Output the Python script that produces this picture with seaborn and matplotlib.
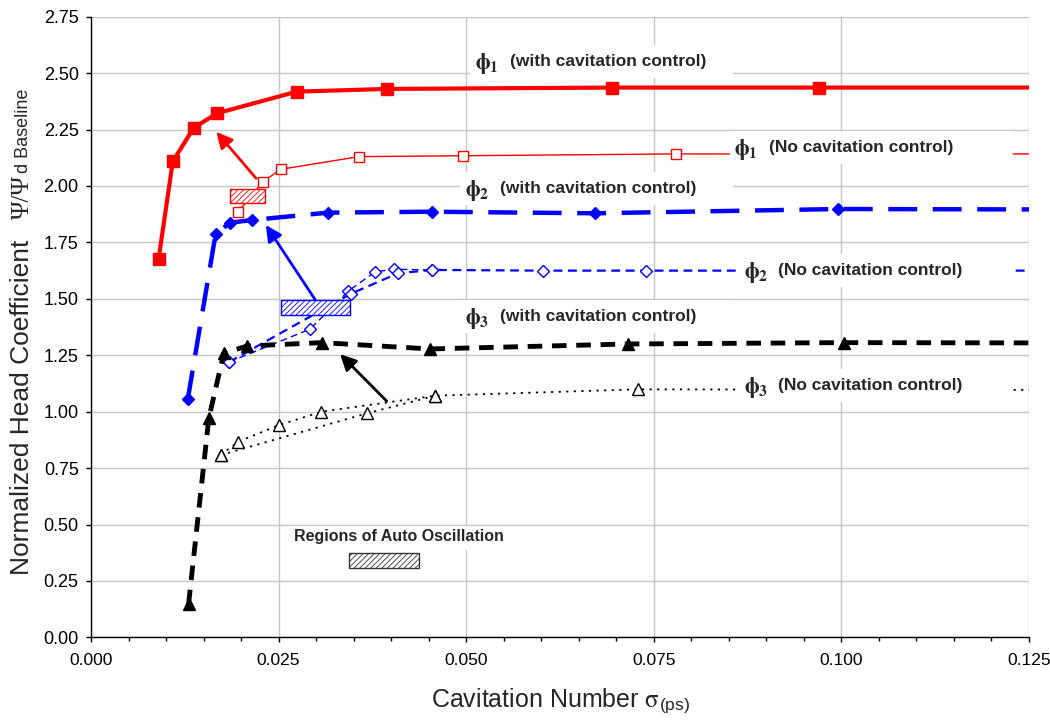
import numpy as np
import pandas as pd
import matplotlib
matplotlib.use('agg')
import matplotlib.pyplot as plt
import seaborn as sns
from matplotlib.patches import Rectangle
from matplotlib.ticker import MultipleLocator, FormatStrFormatter

# values (points past 0.125 only carry the line to the edge)
phi1_ctrl_x = [0.0090, 0.0109, 0.0137, 0.0168, 0.0274, 0.0394, 0.0694, 0.0970, 0.140]
phi1_ctrl_y = [1.675, 2.109, 2.258, 2.322, 2.418, 2.430, 2.436, 2.436, 2.436]

phi1_free_x = [0.0196, 0.0229, 0.0253, 0.0357, 0.0496, 0.0780, 0.140]
phi1_free_y = [1.885, 2.019, 2.074, 2.130, 2.134, 2.142, 2.142]

phi2_ctrl_x = [0.0129, 0.0166, 0.0185, 0.0214, 0.0316, 0.0454, 0.0672, 0.0996, 0.140]
phi2_ctrl_y = [1.056, 1.786, 1.837, 1.849, 1.882, 1.886, 1.879, 1.898, 1.895]

phi2_free_up_x = [0.0184, 0.0292, 0.0343, 0.0379, 0.0404, 0.0454]
phi2_free_up_y = [1.220, 1.366, 1.535, 1.620, 1.631, 1.628]
phi2_free_x = [0.0184, 0.0346, 0.0409, 0.0454, 0.0603, 0.0740, 0.140]
phi2_free_y = [1.220, 1.522, 1.613, 1.628, 1.625, 1.625, 1.625]

phi3_ctrl_x = [0.0130, 0.0157, 0.0177, 0.0208, 0.0308, 0.0452, 0.0716, 0.1004, 0.140]
phi3_ctrl_y = [0.147, 0.971, 1.259, 1.291, 1.306, 1.278, 1.300, 1.306, 1.304]

phi3_free_x = [0.0173, 0.0196, 0.0251, 0.0307, 0.0459, 0.0729, 0.140]
phi3_free_y = [0.808, 0.867, 0.941, 1.000, 1.071, 1.099, 1.096]
phi3_free_lo_x = [0.0173, 0.0368, 0.0459]
phi3_free_lo_y = [0.808, 0.993, 1.071]

# auto oscillation regions: x0, x1, y0, y1
osc_red = [0.01858, 0.02323, 1.923, 1.987]
osc_blue = [0.02533, 0.03457, 1.428, 1.495]
osc_key = [0.03444, 0.04366, 0.309, 0.373]

sns.set_style("white")
plt.rcParams['font.family'] = ['Liberation Sans', 'DejaVu Sans']
plt.rcParams['mathtext.fontset'] = 'stix'
plt.rcParams['hatch.linewidth'] = 0.6

fig = plt.figure(figsize=(10.5, 7.25), dpi=100)
ax = fig.add_axes([91 / 1050, 1 - 637.4 / 725, 938 / 1050, 620.7 / 725])


def draw(x, y, **kw):
    sns.lineplot(x=x, y=y, ax=ax, sort=False, estimator=None, legend=False, **kw)


draw(phi1_ctrl_x, phi1_ctrl_y, color='red', lw=3, marker='s', ms=8,
     mfc='red', mec='red', mew=1, zorder=3)
draw(phi1_free_x, phi1_free_y, color='red', lw=1, marker='s', ms=7.5,
     mfc='white', mec='red', mew=1, zorder=3)
draw(phi2_ctrl_x, phi2_ctrl_y, color='blue', lw=3.2, linestyle=(0, (6.5, 3.5)),
     marker='D', ms=6.5, mfc='blue', mec='blue', mew=1, zorder=3)
draw(phi2_free_up_x, phi2_free_up_y, color='blue', lw=1, linestyle=(0, (5, 3)),
     marker='D', ms=6, mfc='white', mec='blue', mew=1, zorder=3)
draw(phi2_free_x, phi2_free_y, color='blue', lw=1.6, linestyle=(0, (4, 2.5)),
     marker='D', ms=6, mfc='white', mec='blue', mew=1, zorder=3)
draw(phi3_ctrl_x, phi3_ctrl_y, color='black', lw=3.5, linestyle=(0, (3, 2)),
     marker='^', ms=8, mfc='black', mec='black', mew=1, zorder=3)
draw(phi3_free_x, phi3_free_y, color='black', lw=1.3, linestyle=(0, (1.2, 3)),
     marker='^', ms=8, mfc='white', mec='black', mew=1, zorder=3)
draw(phi3_free_lo_x, phi3_free_lo_y, color='black', lw=1.3, linestyle=(0, (1.2, 3)),
     marker='^', ms=8, mfc='white', mec='black', mew=1, zorder=3)

for (x0, x1, y0, y1), c in [(osc_red, 'red'), (osc_blue, 'blue'), (osc_key, '#333333')]:
    ax.add_patch(Rectangle((x0, y0), x1 - x0, y1 - y0, facecolor='white',
                           edgecolor=c, hatch='//////', lw=1, zorder=4))

# arrows from the oscillation regions to the controlled curves
for tail, head, c in [((0.0220, 2.034), (0.0167, 2.240), 'red'),
                      ((0.0299, 1.495), (0.0233, 1.827), 'blue'),
                      ((0.0394, 1.047), (0.0332, 1.255), 'black')]:
    ax.annotate('', xy=head, xytext=tail, zorder=4,
                arrowprops=dict(arrowstyle='-|>', color=c, lw=2,
                                mutation_scale=24, shrinkA=0, shrinkB=0))

# curve labels on white boxes
labels = [(0.0505, 0.0512, 2.551, 0.0350, "1", "(with cavitation control)"),
          (0.0852, 0.0857, 2.170, 0.0377, "1", "(No cavitation control)"),
          (0.0492, 0.0499, 1.990, 0.0363, "2", "(with cavitation control)"),
          (0.0863, 0.0870, 1.625, 0.0366, "2", "(No cavitation control)"),
          (0.0492, 0.0499, 1.421, 0.0363, "3", "(with cavitation control)"),
          (0.0863, 0.0870, 1.118, 0.0366, "3", "(No cavitation control)")]
for bx, tx, ty, bw, sub, s in labels:
    ax.add_patch(Rectangle((bx, ty - 0.073), bw, 0.146, facecolor='white',
                           edgecolor='none', zorder=5))
    ax.text(tx, ty - 0.01, r"$\mathbf{\phi_%s}$" % sub, fontsize=16, ha='left',
            va='center', zorder=6)
    ax.text(tx + 0.0046, ty, s, fontsize=12.5, fontweight='bold', ha='left',
            va='center', zorder=6)

ax.add_patch(Rectangle((0.0265, 0.388), 0.0237, 0.106, facecolor='white',
                       edgecolor='none', zorder=5))
ax.text(0.0271, 0.446, "Regions of Auto Oscillation", fontsize=11.5,
        fontweight='bold', ha='left', va='center', zorder=6)

ax.set_xlim(0, 0.125)
ax.set_ylim(0, 2.75)
ax.xaxis.set_major_locator(MultipleLocator(0.025))
ax.xaxis.set_minor_locator(MultipleLocator(0.005))
ax.xaxis.set_major_formatter(FormatStrFormatter('%.3f'))
ax.yaxis.set_major_locator(MultipleLocator(0.25))
ax.yaxis.set_major_formatter(FormatStrFormatter('%.2f'))
ax.grid(True, which='major', color='#c6c6c6', lw=1)
ax.set_axisbelow(True)
for side in ['top', 'right']:
    ax.spines[side].set_visible(False)
for side in ['left', 'bottom']:
    ax.spines[side].set_color('black')
    ax.spines[side].set_linewidth(1)
ax.tick_params(axis='both', which='both', bottom=True, left=True, direction='out',
               length=3.4, width=1, color='black', labelsize=13, labelcolor='black')
ax.tick_params(axis='x', which='both', pad=8, labelsize=12.5)
ax.tick_params(axis='y', pad=5.5)
ax.tick_params(axis='x', which='minor', length=3)

fig.text(22 / 1050, 1 - 575 / 725, "Normalized Head Coefficient", rotation=90,
         fontsize=19, ha='center', va='bottom')
fig.text(22.5 / 1050, 1 - 219 / 725, "Ψ/Ψ", rotation=90, fontsize=18,
         family=['Liberation Serif', 'DejaVu Serif'], ha='center', va='bottom')
fig.text(24 / 1050, 1 - 173 / 725, "d Baseline", rotation=90, fontsize=13,
         ha='center', va='bottom')
fig.text(561 / 1050, 1 - 706.7 / 725, r"Cavitation Number $\mathrm{\sigma}_{\mathregular{(ps)}}$",
         fontsize=18, ha='center', va='baseline')

fig.savefig('out.png', dpi=100)
